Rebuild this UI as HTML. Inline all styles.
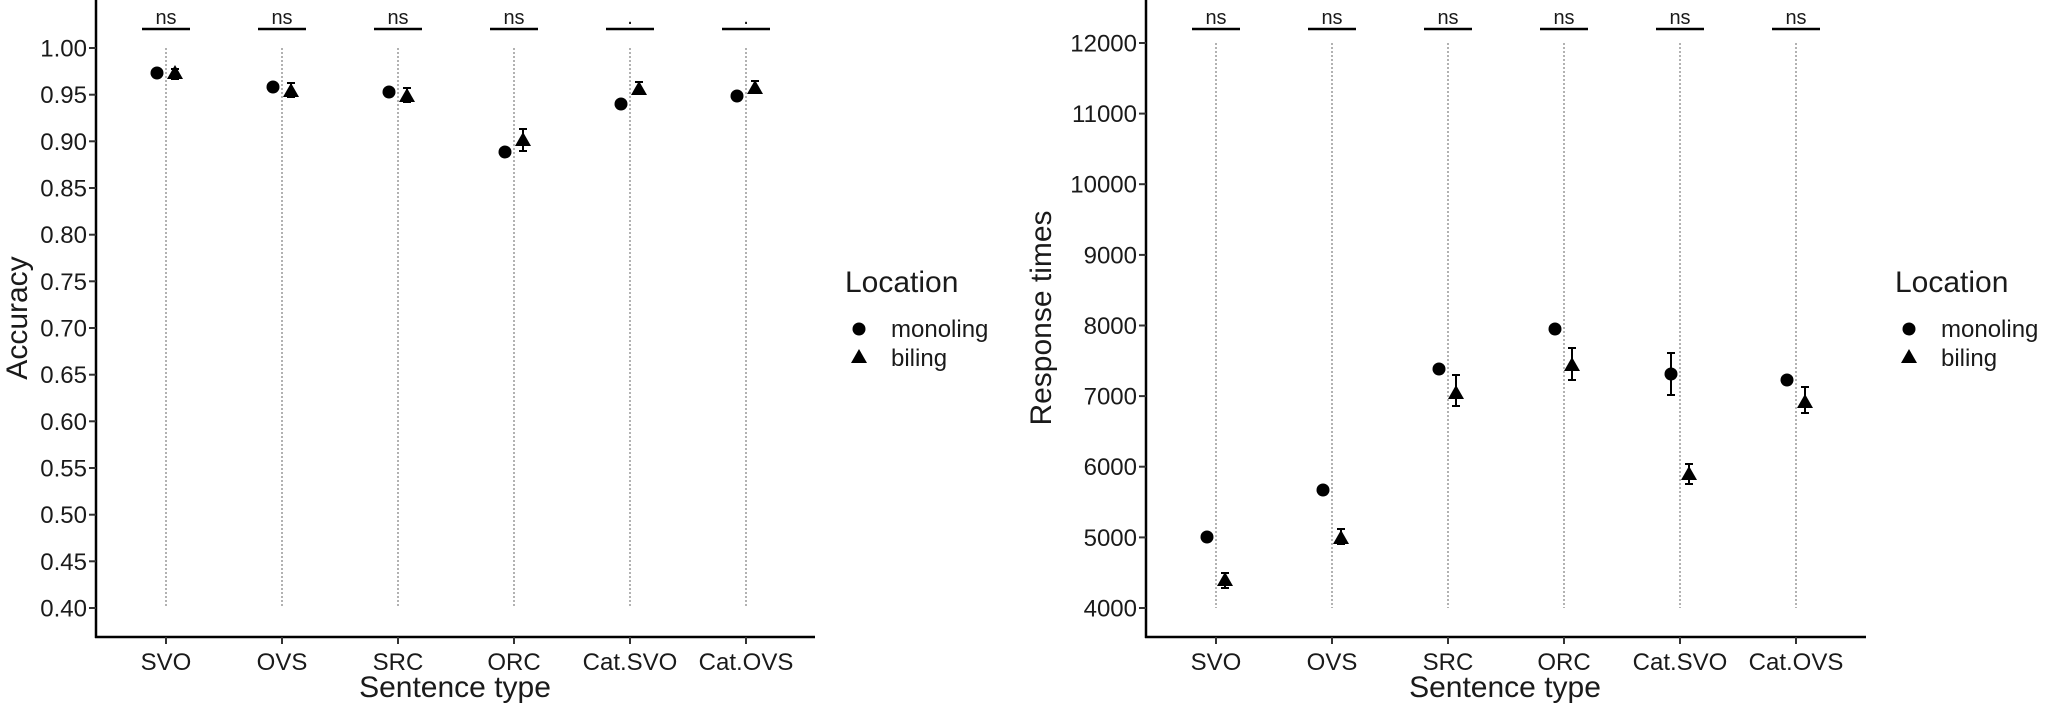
<!DOCTYPE html>
<html><head><meta charset="utf-8"><style>
html,body{margin:0;padding:0;background:#fff}
svg{display:block}
text{font-family:"Liberation Sans",Arial,sans-serif;fill:#1a1a1a}
</style></head><body>
<svg width="2049" height="706" viewBox="0 0 2049 706" xmlns="http://www.w3.org/2000/svg">
<rect width="2049" height="706" fill="#fff"/>
<g id="L">
<!-- y axis -->
<line x1="96" y1="0" x2="96" y2="638" stroke="#000" stroke-width="2.5"/>
<line x1="95" y1="637" x2="815" y2="637" stroke="#000" stroke-width="2.5"/>
<g stroke="#333" stroke-width="2">
<line x1="89" y1="48" x2="96" y2="48"/><line x1="89" y1="94.7" x2="96" y2="94.7"/><line x1="89" y1="141.3" x2="96" y2="141.3"/><line x1="89" y1="188" x2="96" y2="188"/><line x1="89" y1="234.7" x2="96" y2="234.7"/><line x1="89" y1="281.3" x2="96" y2="281.3"/><line x1="89" y1="328" x2="96" y2="328"/><line x1="89" y1="374.7" x2="96" y2="374.7"/><line x1="89" y1="421.3" x2="96" y2="421.3"/><line x1="89" y1="468" x2="96" y2="468"/><line x1="89" y1="514.7" x2="96" y2="514.7"/><line x1="89" y1="561.3" x2="96" y2="561.3"/><line x1="89" y1="608" x2="96" y2="608"/>
<line x1="166" y1="637" x2="166" y2="644"/><line x1="282" y1="637" x2="282" y2="644"/><line x1="398" y1="637" x2="398" y2="644"/><line x1="514" y1="637" x2="514" y2="644"/><line x1="630" y1="637" x2="630" y2="644"/><line x1="746" y1="637" x2="746" y2="644"/>
</g>
<g font-size="24" text-anchor="end">
<text x="87" y="56.5">1.00</text><text x="87" y="103.2">0.95</text><text x="87" y="149.8">0.90</text><text x="87" y="196.5">0.85</text><text x="87" y="243.2">0.80</text><text x="87" y="289.8">0.75</text><text x="87" y="336.5">0.70</text><text x="87" y="383.2">0.65</text><text x="87" y="429.8">0.60</text><text x="87" y="476.5">0.55</text><text x="87" y="523.2">0.50</text><text x="87" y="569.8">0.45</text><text x="87" y="616.5">0.40</text>
</g>
<g font-size="24" text-anchor="middle">
<text x="166" y="670">SVO</text><text x="282" y="670">OVS</text><text x="398" y="670">SRC</text><text x="514" y="670">ORC</text><text x="630" y="670">Cat.SVO</text><text x="746" y="670">Cat.OVS</text>
</g>
<text x="455" y="697" font-size="30" text-anchor="middle">Sentence type</text>
<text transform="translate(27,318) rotate(-90)" font-size="30" text-anchor="middle">Accuracy</text>
<g stroke="#888" stroke-width="1.3" stroke-dasharray="2,2">
<line x1="166" y1="48" x2="166" y2="608"/><line x1="282" y1="48" x2="282" y2="608"/><line x1="398" y1="48" x2="398" y2="608"/><line x1="514" y1="48" x2="514" y2="608"/><line x1="630" y1="48" x2="630" y2="608"/><line x1="746" y1="48" x2="746" y2="608"/>
</g>
<g stroke="#000" stroke-width="2.5">
<line x1="142" y1="29" x2="190" y2="29"/><line x1="258" y1="29" x2="306" y2="29"/><line x1="374" y1="29" x2="422" y2="29"/><line x1="490" y1="29" x2="538" y2="29"/><line x1="606" y1="29" x2="654" y2="29"/><line x1="722" y1="29" x2="770" y2="29"/>
</g>
<g font-size="20" text-anchor="middle">
<text x="166" y="24">ns</text><text x="282" y="24">ns</text><text x="398" y="24">ns</text><text x="514" y="24">ns</text><text x="630" y="24">.</text><text x="746" y="24">.</text>
</g>
<!-- circles: y=48+933.3*(1-v) -->
<g fill="#000">
<circle cx="157" cy="73" r="6.5"/><circle cx="273" cy="87" r="6.5"/><circle cx="389" cy="92" r="6.5"/><circle cx="505" cy="152" r="6.5"/><circle cx="621" cy="104" r="6.5"/><circle cx="737" cy="96" r="6.5"/>
</g>
<g stroke="#000" stroke-width="2" fill="none">
<path d="M171 69h8M175 69v10M171 79h8"/>
<path d="M287 83h8M291 83v14M287 97h8"/>
<path d="M403 88h8M407 88v14M403 102h8"/>
<path d="M519 129h8M523 129v22M519 151h8"/>
<path d="M635 82h8M639 82v12M635 94h8"/>
<path d="M751 81h8M755 81v12M751 93h8"/>
</g>
<g fill="#000">
<path d="M175 65l-8 14h16z"/><path d="M291 83l-8 14h16z"/><path d="M407 88l-8 14h16z"/><path d="M523 132l-8 14h16z"/><path d="M639 81l-8 14h16z"/><path d="M755 80l-8 14h16z"/>
</g>
<text x="845" y="292" font-size="30">Location</text>
<circle cx="859" cy="329" r="6.5" fill="#000"/>
<path d="M859 349l-8 14h16z" fill="#000"/>
<text x="891" y="337" font-size="24">monoling</text>
<text x="891" y="366" font-size="24">biling</text>
</g>

<g id="R">
<line x1="1146" y1="0" x2="1146" y2="638" stroke="#000" stroke-width="2.5"/>
<line x1="1145" y1="637" x2="1866" y2="637" stroke="#000" stroke-width="2.5"/>
<g stroke="#333" stroke-width="2">
<line x1="1139" y1="43" x2="1146" y2="43"/><line x1="1139" y1="113.6" x2="1146" y2="113.6"/><line x1="1139" y1="184.2" x2="1146" y2="184.2"/><line x1="1139" y1="254.9" x2="1146" y2="254.9"/><line x1="1139" y1="325.5" x2="1146" y2="325.5"/><line x1="1139" y1="396.1" x2="1146" y2="396.1"/><line x1="1139" y1="466.7" x2="1146" y2="466.7"/><line x1="1139" y1="537.4" x2="1146" y2="537.4"/><line x1="1139" y1="608" x2="1146" y2="608"/>
<line x1="1216" y1="637" x2="1216" y2="644"/><line x1="1332" y1="637" x2="1332" y2="644"/><line x1="1448" y1="637" x2="1448" y2="644"/><line x1="1564" y1="637" x2="1564" y2="644"/><line x1="1680" y1="637" x2="1680" y2="644"/><line x1="1796" y1="637" x2="1796" y2="644"/>
</g>
<g font-size="24" text-anchor="end">
<text x="1137" y="51.5">12000</text><text x="1137" y="122.1">11000</text><text x="1137" y="192.7">10000</text><text x="1137" y="263.4">9000</text><text x="1137" y="334">8000</text><text x="1137" y="404.6">7000</text><text x="1137" y="475.2">6000</text><text x="1137" y="545.9">5000</text><text x="1137" y="616.5">4000</text>
</g>
<g font-size="24" text-anchor="middle">
<text x="1216" y="670">SVO</text><text x="1332" y="670">OVS</text><text x="1448" y="670">SRC</text><text x="1564" y="670">ORC</text><text x="1680" y="670">Cat.SVO</text><text x="1796" y="670">Cat.OVS</text>
</g>
<text x="1505" y="697" font-size="30" text-anchor="middle">Sentence type</text>
<text transform="translate(1051,318) rotate(-90)" font-size="30" text-anchor="middle">Response times</text>
<g stroke="#888" stroke-width="1.3" stroke-dasharray="2,2">
<line x1="1216" y1="43" x2="1216" y2="608"/><line x1="1332" y1="43" x2="1332" y2="608"/><line x1="1448" y1="43" x2="1448" y2="608"/><line x1="1564" y1="43" x2="1564" y2="608"/><line x1="1680" y1="43" x2="1680" y2="608"/><line x1="1796" y1="43" x2="1796" y2="608"/>
</g>
<g stroke="#000" stroke-width="2.5">
<line x1="1192" y1="29" x2="1240" y2="29"/><line x1="1308" y1="29" x2="1356" y2="29"/><line x1="1424" y1="29" x2="1472" y2="29"/><line x1="1540" y1="29" x2="1588" y2="29"/><line x1="1656" y1="29" x2="1704" y2="29"/><line x1="1772" y1="29" x2="1820" y2="29"/>
</g>
<g font-size="20" text-anchor="middle">
<text x="1216" y="24">ns</text><text x="1332" y="24">ns</text><text x="1448" y="24">ns</text><text x="1564" y="24">ns</text><text x="1680" y="24">ns</text><text x="1796" y="24">ns</text>
</g>
<!-- y=43+(12000-v)*0.0706 -->
<g fill="#000">
<circle cx="1207" cy="537" r="6.5"/><circle cx="1323" cy="490" r="6.5"/><circle cx="1439" cy="369" r="6.5"/><circle cx="1555" cy="329" r="6.5"/><circle cx="1671" cy="374" r="6.5"/><circle cx="1787" cy="380" r="6.5"/>
</g>
<g stroke="#000" stroke-width="2" fill="none">
<path d="M1221 573h8M1225 573v15M1221 588h8"/>
<path d="M1337 529h8M1341 529v15M1337 544h8"/>
<path d="M1452 375h8M1456 375v31M1452 406h8"/>
<path d="M1568 348h8M1572 348v32M1568 380h8"/>
<path d="M1667 353h8M1671 353v42M1667 395h8"/>
<path d="M1685 464h8M1689 464v20M1685 484h8"/>
<path d="M1801 387h8M1805 387v26M1801 413h8"/>
</g>
<g fill="#000">
<path d="M1225 572l-8 14h16z"/><path d="M1341 530l-8 14h16z"/><path d="M1456 385l-8 14h16z"/><path d="M1572 357l-8 14h16z"/><path d="M1689 466l-8 14h16z"/><path d="M1805 394l-8 14h16z"/>
</g>
<text x="1895" y="292" font-size="30">Location</text>
<circle cx="1909" cy="329" r="6.5" fill="#000"/>
<path d="M1909 349l-8 14h16z" fill="#000"/>
<text x="1941" y="337" font-size="24">monoling</text>
<text x="1941" y="366" font-size="24">biling</text>
</g>
</svg>
</body></html>
